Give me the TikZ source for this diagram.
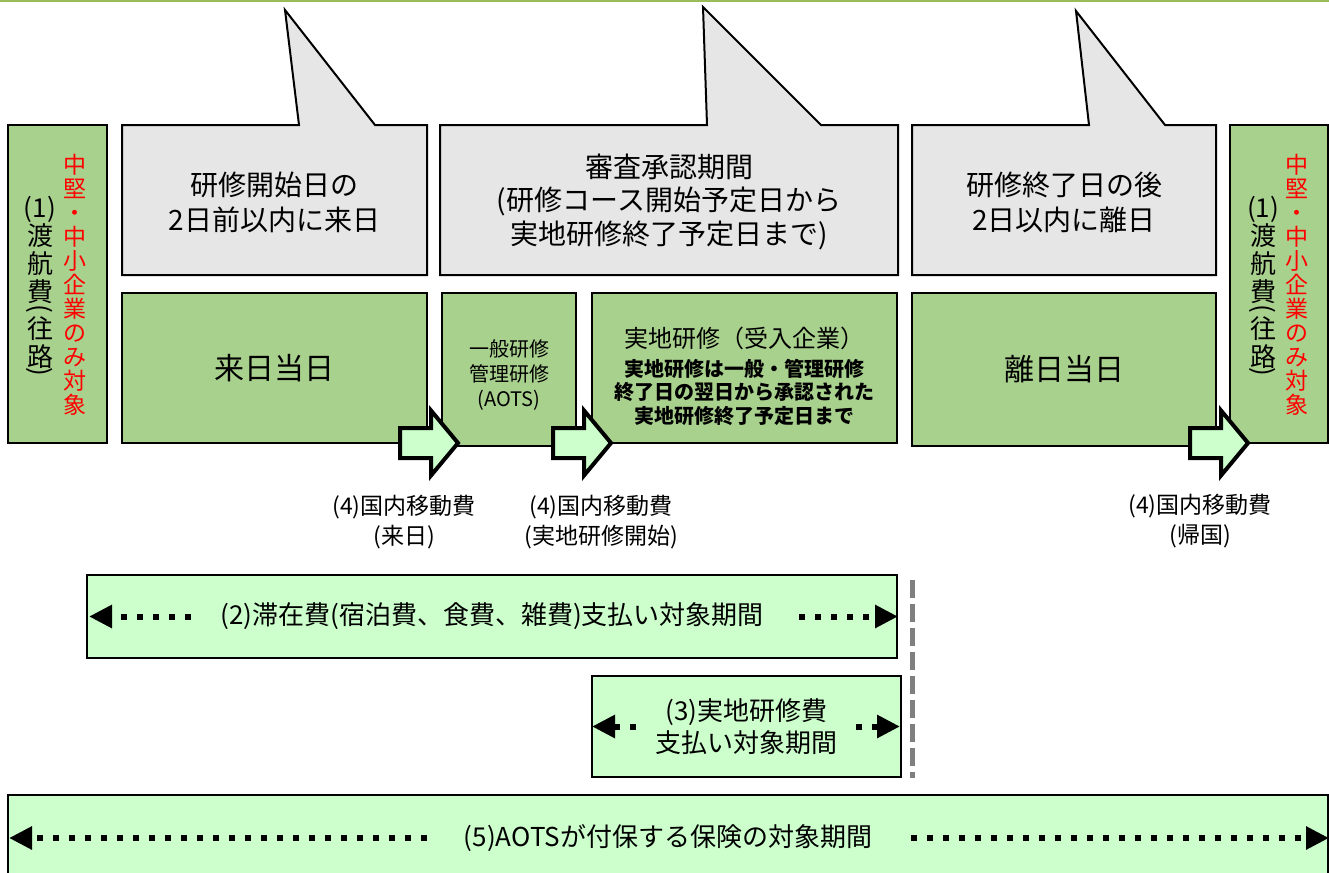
\documentclass[tikz,border=0pt]{standalone}
\usepackage{fontspec}
\setmainfont{Noto Sans CJK JP}
\usetikzlibrary{arrows.meta}
\definecolor{boxgreen}{HTML}{A9D18E}
\definecolor{barlime}{HTML}{CCFFCC}
\definecolor{callgray}{HTML}{E7E6E6}
\definecolor{topolive}{HTML}{9BBB59}
\definecolor{cutgray}{HTML}{7F7F7F}
\newcommand{\tateopen}{\rotatebox{-90}{(}}
\newcommand{\tateclose}{\rotatebox{-90}{)}}

\begin{document}
\begin{tikzpicture}[x=1pt,y=-1pt,
    greenbox/.style={draw=black, line width=2pt, fill=boxgreen, align=center},
    callbox/.style={draw=black, line width=2pt, fill=callgray, line join=miter},
    calltext/.style={align=center, font=\fontsize{28}{35}\selectfont},
    redcol/.style={align=center, text=red, font=\fontsize{23}{24}\selectfont},
    blackcol/.style={align=center, font=\fontsize{26}{28}\selectfont},
    movearrow/.style={draw=black, line width=4pt, fill=barlime, line join=miter},
    movelabel/.style={align=center, font=\fontsize{23}{30}\selectfont},
    periodbar/.style={draw=black, line width=2pt, fill=barlime, align=center, font=\fontsize{26}{32}\selectfont},
    dotline/.style={line width=6pt, dash pattern=on 6pt off 10pt, -{Triangle[length=23pt,width=22pt]}},
    cutline/.style={cutgray, line width=5pt, dash pattern=on 18pt off 6pt}]
                \tikzstyle{every node}+=[inner sep=0pt]
                \useasboundingbox (0,0) rectangle (1329,872);
                \draw [topolive, line width=2pt] (0,1) -- (1329,1);
                % speech balloons
                \draw [callbox] (122,125) -- (299,125) -- (285,10) -- (375,125) -- (427,125) -- (427,275) -- (122,275) -- cycle;
                \node [calltext] (before) at (274.5,202.5) {研修開始日の\\2日前以内に来日};
                \draw [callbox] (440,125) -- (707,125) -- (703,7) -- (821,125) -- (898,125) -- (898,275) -- (440,275) -- cycle;
                \node [calltext, font=\fontsize{28}{33.5}\selectfont] (review) at (669,201.5) {審査承認期間\\(研修コース開始予定日から\\実地研修終了予定日まで)};
                \draw [callbox] (912,125) -- (1089,125) -- (1076,11) -- (1165,125) -- (1216,125) -- (1216,275) -- (912,275) -- cycle;
                \node [calltext] (after) at (1064,202.5) {研修終了日の後\\2日以内に離日};
                % flight boxes
                \node [greenbox, minimum width=99pt, minimum height=318pt] (flightL) at (57.5,284) {};
                \node [redcol] (smeL) at (75,285) {中\\堅\\・\\中\\小\\企\\業\\の\\み\\対\\象};
                \node [blackcol] (fareL) at (40,286) {(1)\\渡\\航\\費\\[-25pt]\tateopen\\[2.5pt]往\\路\\[-27pt]\tateclose};
                \node [greenbox, minimum width=98pt, minimum height=318pt] (flightR) at (1279,284) {};
                \node [redcol] (smeR) at (1297,285) {中\\堅\\・\\中\\小\\企\\業\\の\\み\\対\\象};
                \node [blackcol] (fareR) at (1263,286) {(1)\\渡\\航\\費\\[-25pt]\tateopen\\[2.5pt]往\\路\\[-27pt]\tateclose};
                % schedule boxes
                \node [greenbox, minimum width=305pt, minimum height=150pt, font=\fontsize{30}{36}\selectfont] (arrival) at (274.5,368) {来日当日};
                \node [greenbox, minimum width=134pt, minimum height=153pt] (general) at (509,369.5) {};
                \node [align=center, font=\fontsize{20}{25}\selectfont] (generaltxt) at (509,375) {一般研修\\管理研修\\(AOTS)};
                \node [greenbox, minimum width=305pt, minimum height=150pt] (onsite) at (744.5,368) {};
                \node [font=\fontsize{24}{30}\selectfont] (onsitehead) at (744.5,338) {実地研修（受入企業）};
                \node [align=center, font=\fontsize{20}{23.5}\selectfont\bfseries] (onsitebody) at (744.5,392) {実地研修は一般・管理研修\\終了日の翌日から承認された\\実地研修終了予定日まで};
                \node [greenbox, minimum width=304pt, minimum height=153pt, font=\fontsize{30}{36}\selectfont] (departure) at (1064,369.5) {離日当日};
                % travel arrows
                \draw [movearrow] (458,443) -- ++(-27,-32.5) -- ++(0,17.5) -- ++(-31,0) -- ++(0,30) -- ++(31,0) -- ++(0,17.5) -- cycle;
                \draw [movearrow] (611,443) -- ++(-27,-32.5) -- ++(0,17.5) -- ++(-31,0) -- ++(0,30) -- ++(31,0) -- ++(0,17.5) -- cycle;
                \draw [movearrow] (1248,443) -- ++(-27,-32.5) -- ++(0,17.5) -- ++(-31,0) -- ++(0,30) -- ++(31,0) -- ++(0,17.5) -- cycle;
                \node [movelabel] (moveArr) at (404,522) {(4)国内移動費\\(来日)};
                \node [movelabel] (moveSite) at (601,522) {(4)国内移動費\\(実地研修開始)};
                \node [movelabel] (moveRet) at (1200,521) {(4)国内移動費\\(帰国)};
                % payment periods
                \node [periodbar, minimum width=810pt, minimum height=83pt] (stay) at (492,616.5) {(2)滞在費(宿泊費、食費、雑費)支払い対象期間};
                \draw [dotline] ([xshift=105pt]stay.west) -- ([xshift=3pt]stay.west);
                \draw [dotline] ([xshift=-99pt]stay.east) -- (stay.east);
                \node [periodbar, minimum width=309pt, minimum height=101pt] (onsitefee) at (746.5,726.5) {(3)実地研修費\\支払い対象期間};
                \draw [dotline] ([xshift=45pt]onsitefee.west) -- ([xshift=1pt]onsitefee.west);
                \draw [dotline] ([xshift=-46pt]onsitefee.east) -- ([xshift=-2pt]onsitefee.east);
                \node [periodbar, minimum width=1320pt, minimum height=86pt] (insure) at (668,838) {(5)AOTSが付保する保険の対象期間};
                \draw [dotline] ([xshift=420pt]insure.west) -- ([xshift=2pt]insure.west);
                \draw [dotline] ([xshift=-418pt]insure.east) -- (insure.east);
                \draw [cutline] (912,580) -- (912,778);
\end{tikzpicture}
\end{document}
